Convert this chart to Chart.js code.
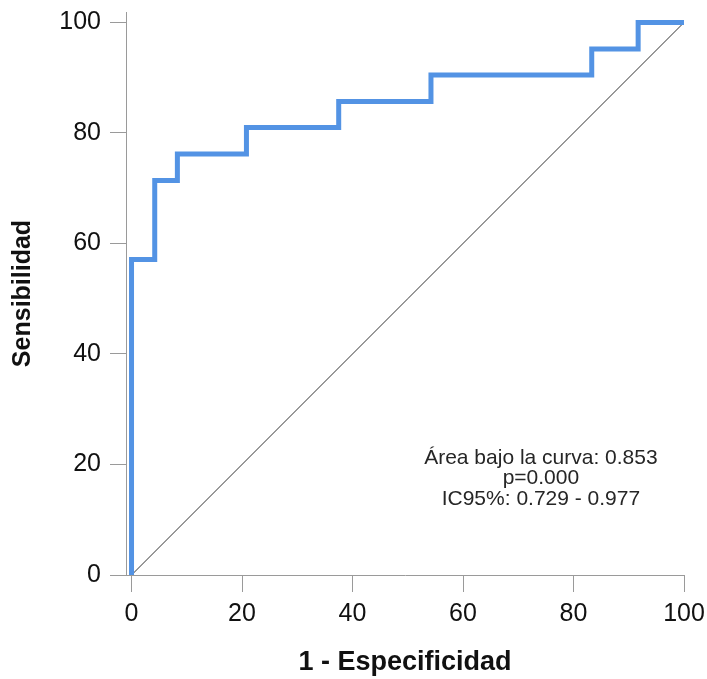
<!DOCTYPE html>
<html>
<head>
<meta charset="utf-8">
<script src="https://cdn.jsdelivr.net/npm/chart.js@4/dist/chart.umd.min.js"></script>
<style>
  html, body { margin: 0; padding: 0; background: #fff; }
  #wrap { width: 707px; height: 679px; }
</style>
</head>
<body>
<div id="wrap"><canvas id="roc"></canvas></div>
<script>
// ROC curve corners (1 - especificidad, sensibilidad), in %
const fpr = [0, 0, 4.2, 4.2, 8.3, 8.3, 20.8, 20.8, 37.5, 37.5, 54.2, 54.2, 83.3, 83.3, 91.7, 91.7, 100];
const tpr = [0, 57.1, 57.1, 71.4, 71.4, 76.2, 76.2, 81.0, 81.0, 85.7, 85.7, 90.5, 90.5, 95.2, 95.2, 100, 100];
const refX = [0, 100];
const refY = [0, 100];
const tickValues = [0, 20, 40, 60, 80, 100];
const noteLines = ['Área bajo la curva: 0.853', 'p=0.000', 'IC95%: 0.729 - 0.977'];

const axisGray = '#9a9a9a';
const font = 'Liberation Sans, Arial, sans-serif';

function toPoints(xs, ys) {
    let pts = [];
    for (let i = 0; i < xs.length; i++) {
        pts.push({ x: xs[i], y: ys[i] });
    }
    return pts;
}

// text box in the lower right, anchored in data units
const notePlugin = {
    id: 'note',
    afterDatasetsDraw(chart) {
        let ctx = chart.ctx;
        let cx = chart.scales.x.getPixelForValue(74.1);
        let cy = chart.scales.y.getPixelForValue(17.5);
        ctx.save();
        ctx.fillStyle = '#262626';
        ctx.font = '21px ' + font;
        ctx.textAlign = 'center';
        ctx.textBaseline = 'middle';
        for (let i = 0; i < noteLines.length; i++) {
            ctx.fillText(noteLines[i], cx, cy + (i - 1) * 20.5);
        }
        ctx.restore();
    }
};

new Chart(document.getElementById('roc'), {
    type: 'scatter',
    data: {
        datasets: [{
            data: toPoints(fpr, tpr),
            showLine: true,
            borderColor: '#5393e4',
            borderWidth: 5,
            pointRadius: 0,
            borderJoinStyle: 'miter',
            fill: false
        }, {
            data: toPoints(refX, refY),
            showLine: true,
            borderColor: '#333',
            borderWidth: 1,
            pointRadius: 0,
            fill: false
        }]
    },
    options: {
        responsive: true,
        maintainAspectRatio: false,
        animation: false,
        layout: { padding: { top: 12, right: 23, left: 0, bottom: 0 } },
        plugins: {
            legend: { display: false },
            tooltip: { enabled: false }
        },
        scales: {
            x: {
                type: 'linear',
                min: -1,
                max: 100,
                afterBuildTicks(scale) { scale.ticks = tickValues.map(v => ({ value: v })); },
                afterFit(scale) {
                    scale.height = 104;
                    scale.paddingLeft = 0;
                    scale.paddingRight = 0;
                },
                border: { color: axisGray, width: 1 },
                grid: { drawOnChartArea: false, color: axisGray, tickLength: 17 },
                ticks: { color: '#111', font: { family: font, size: 25 }, padding: 7, maxRotation: 0 },
                title: {
                    display: true,
                    text: '1 - Especificidad',
                    color: '#111',
                    font: { family: font, size: 27, weight: 'bold' },
                    padding: { top: 19, bottom: 0 }
                }
            },
            y: {
                type: 'linear',
                min: 0,
                max: 101.9,
                afterBuildTicks(scale) { scale.ticks = tickValues.map(v => ({ value: v })); },
                afterFit(scale) {
                    scale.width = 126;
                    scale.paddingTop = 0;
                    scale.paddingBottom = 0;
                },
                border: { color: axisGray, width: 1 },
                grid: { drawOnChartArea: false, color: axisGray, tickLength: 16 },
                ticks: { color: '#111', font: { family: font, size: 25 }, padding: 9 },
                title: {
                    display: true,
                    text: 'Sensibilidad',
                    color: '#111',
                    font: { family: font, size: 25, weight: 'bold' },
                    padding: { top: 8, bottom: 0 }
                }
            }
        }
    },
    plugins: [notePlugin]
});
</script>
</body>
</html>
